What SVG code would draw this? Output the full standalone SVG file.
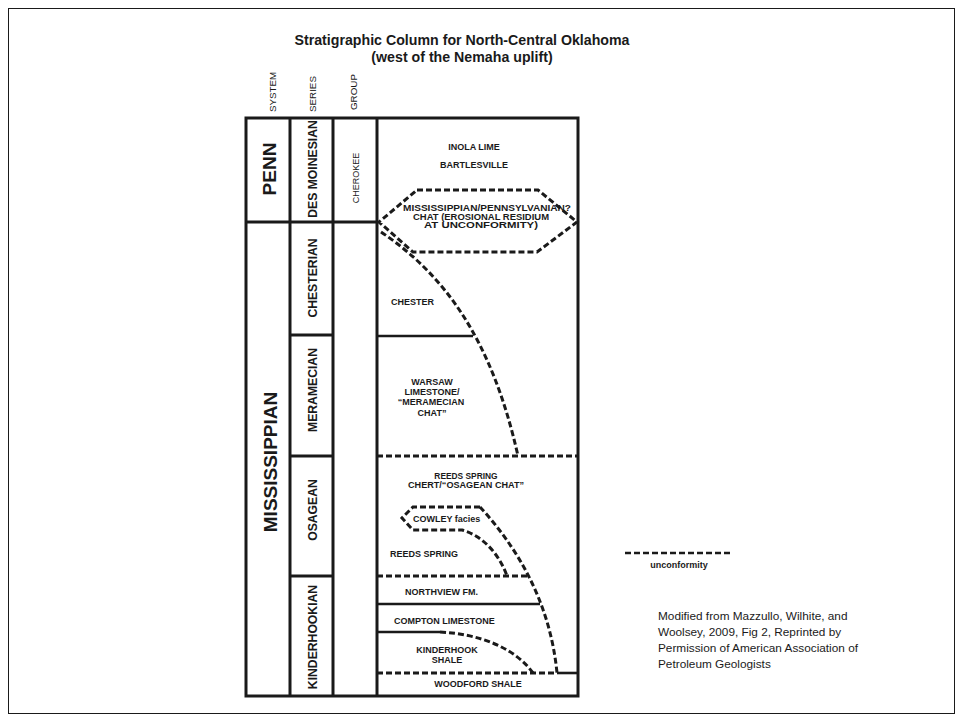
<svg xmlns="http://www.w3.org/2000/svg" width="963" height="722" viewBox="0 0 963 722">
<style>
text{font-family:"Liberation Sans",Arial,sans-serif;fill:#1a1a1a}
.t{font-size:14.2px;font-weight:bold;text-anchor:middle}
.h{font-size:9.8px;text-anchor:start}
.big{font-size:19px;font-weight:bold;text-anchor:middle;dominant-baseline:central}
.ser{font-size:12.2px;font-weight:bold;text-anchor:middle;dominant-baseline:central}
.grp{font-size:9px;text-anchor:middle;dominant-baseline:central}
.u{font-size:9px;font-weight:bold;text-anchor:middle}
.s{font-size:8.4px}
.ul{font-size:9px;font-weight:bold;text-anchor:start}
.cr{font-size:11.8px;text-anchor:start}
.frame{fill:none;stroke:#1a1a1a;stroke-width:3}
.solid{fill:none;stroke:#1a1a1a;stroke-width:2.6}
.dash{fill:none;stroke:#1a1a1a;stroke-width:3;stroke-dasharray:6 3}
</style>
<rect x="8.5" y="8.5" width="946" height="705" fill="#fff" stroke="#1a1a1a" stroke-width="1"/>
<g id="title">
<text class="t" x="462" y="45">Stratigraphic Column for North-Central Oklahoma</text>
<text class="t" x="462" y="62">(west of the Nemaha uplift)</text>
</g>
<g id="headers">
<text class="h" transform="translate(276,112) rotate(-90)">SYSTEM</text>
<text class="h" transform="translate(316,112) rotate(-90)">SERIES</text>
<text class="h" transform="translate(357,110) rotate(-90)">GROUP</text>
</g>
<g id="table">
<rect class="frame" x="246" y="118" width="332" height="578"/>
<line class="frame" x1="290" y1="118" x2="290" y2="696"/>
<line class="frame" x1="333" y1="118" x2="333" y2="696"/>
<line class="frame" x1="377" y1="118" x2="377" y2="696"/>
<line class="frame" x1="246" y1="222" x2="377" y2="222"/>
<line class="frame" x1="290" y1="335" x2="333" y2="335"/>
<line class="frame" x1="290" y1="456" x2="333" y2="456"/>
<line class="frame" x1="290" y1="576" x2="333" y2="576"/>
</g>
<g id="system-penn"><text class="big" transform="translate(269,169) rotate(-90)">PENN</text></g>
<g id="system-miss"><text class="big" transform="translate(270,462) rotate(-90)">MISSISSIPPIAN</text></g>
<g id="series-desmoinesian"><text class="ser" transform="translate(313,169) rotate(-90)">DES MOINESIAN</text></g>
<g id="series-chesterian"><text class="ser" transform="translate(313,278) rotate(-90)">CHESTERIAN</text></g>
<g id="series-meramecian"><text class="ser" transform="translate(313,390) rotate(-90)">MERAMECIAN</text></g>
<g id="series-osagean"><text class="ser" transform="translate(313,510) rotate(-90)">OSAGEAN</text></g>
<g id="series-kinderhookian"><text class="ser" transform="translate(313,637) rotate(-90)">KINDERHOOKIAN</text></g>
<g id="group-cherokee"><text class="grp" transform="translate(356,178) rotate(-90)">CHEROKEE</text></g>
<g id="connectors">
<path class="solid" d="M377,336 H473"/>
<path class="solid" d="M377,604 H540"/>
<path class="solid" d="M377,632 H440"/>
<path class="solid" d="M557,673 H578"/>
<path class="dash" d="M417,190 L538,190 L577,222 L537,252 L413,252 L379,222 Z"/>
<path class="dash" d="M381,232 C445,275 492,340 518,456"/>
<path class="dash" d="M377,456 H578"/>
<path class="dash" d="M377,576 H527"/>
<path class="dash" d="M377,673 H557"/>
<path class="dash" d="M480,507 L413,507 L402,518 L413,530 L462,530 C484,536 500,556 507,576"/>
<path class="dash" d="M480,507 C515,545 550,600 557,673"/>
<path class="dash" d="M440,632 C480,634 515,648 533,673"/>
<path class="dash" style="stroke-width:2.6" d="M625,553 H730"/>
</g>
<g id="unit-inola"><text class="u" x="474" y="150">INOLA LIME</text></g>
<g id="unit-bartlesville"><text class="u" x="474" y="168">BARTLESVILLE</text></g>
<g id="unit-chat">
<text class="u s" x="487" y="211" textLength="168" lengthAdjust="spacingAndGlyphs">MISSISSIPPIAN/PENNSYLVANIAN?</text>
<text class="u s" x="481" y="219.5" textLength="136" lengthAdjust="spacingAndGlyphs">CHAT (EROSIONAL RESIDIUM</text>
<text class="u s" x="481" y="228" textLength="114" lengthAdjust="spacingAndGlyphs">AT UNCONFORMITY)</text>
</g>
<g id="unit-chester"><text class="ul" x="391" y="305">CHESTER</text></g>
<g id="unit-warsaw">
<text class="u" x="432" y="385">WARSAW</text>
<text class="u" x="432" y="395">LIMESTONE/</text>
<text class="u" x="431" y="405">“MERAMECIAN</text>
<text class="u" x="432" y="416">CHAT”</text>
</g>
<g id="unit-reeds-chert">
<text class="u s" x="466" y="479">REEDS SPRING</text>
<text class="u s" x="466" y="487.5" textLength="116" lengthAdjust="spacingAndGlyphs">CHERT/“OSAGEAN CHAT”</text>
</g>
<g id="unit-cowley"><text class="ul" x="413" y="522">COWLEY facies</text></g>
<g id="unit-reeds"><text class="ul" x="390" y="557">REEDS SPRING</text></g>
<g id="unit-northview"><text class="ul" x="405" y="595">NORTHVIEW FM.</text></g>
<g id="unit-compton"><text class="ul" x="394" y="624">COMPTON LIMESTONE</text></g>
<g id="unit-kinderhook">
<text class="u" x="447" y="653">KINDERHOOK</text>
<text class="u" x="447" y="663">SHALE</text>
</g>
<g id="unit-woodford"><text class="u" x="478" y="687">WOODFORD SHALE</text></g>
<g id="legend"><text class="u" x="679" y="568">unconformity</text></g>
<g id="credit">
<text class="cr" x="658" y="620">Modified from Mazzullo, Wilhite, and</text>
<text class="cr" x="658" y="636">Woolsey, 2009, Fig 2, Reprinted by</text>
<text class="cr" x="658" y="652">Permission of American Association of</text>
<text class="cr" x="658" y="668">Petroleum Geologists</text>
</g>
</svg>
